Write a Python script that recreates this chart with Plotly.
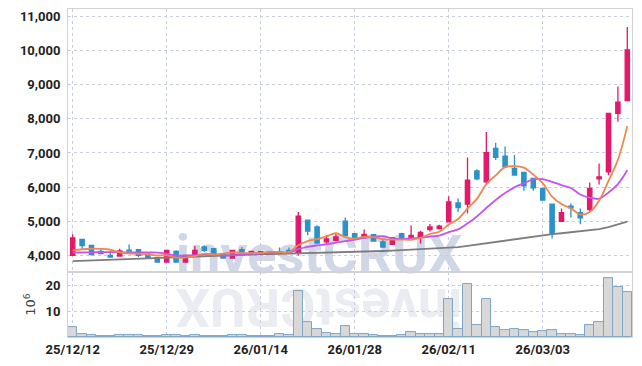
import plotly.graph_objects as go
from plotly.subplots import make_subplots

# ---------------- data ----------------
dates = [
    "25/12/12", "25/12/15", "25/12/16", "25/12/17", "25/12/18", "25/12/19",
    "25/12/22", "25/12/23", "25/12/24", "25/12/26", "25/12/29", "25/12/30",
    "26/01/02", "26/01/05", "26/01/06", "26/01/07", "26/01/08", "26/01/09",
    "26/01/12", "26/01/13", "26/01/14", "26/01/15", "26/01/16", "26/01/19",
    "26/01/20", "26/01/21", "26/01/22", "26/01/23", "26/01/26", "26/01/27",
    "26/01/28", "26/01/29", "26/01/30", "26/02/02", "26/02/03", "26/02/04",
    "26/02/05", "26/02/06", "26/02/09", "26/02/10", "26/02/11", "26/02/12",
    "26/02/13", "26/02/19", "26/02/20", "26/02/23", "26/02/24", "26/02/25",
    "26/02/26", "26/02/27", "26/03/03", "26/03/04", "26/03/05", "26/03/06",
    "26/03/09", "26/03/10", "26/03/11", "26/03/12", "26/03/13", "26/03/16",
]

opens = [4000, 4472, 4295, 4119, 4002, 3981, 4157, 4169, 4040, 3934,
         3805, 4119, 3805, 4002, 4246, 4198, 4052, 3922, 4169, 4060,
         4050, 4095, 4100, 4148, 4070, 5030, 4833, 4393, 4442, 5000,
         4638, 4521, 4609, 4393, 4325, 4638, 4521, 4560, 4755, 4785,
         4980, 5538, 5500, 6477, 6154, 7134, 6908, 6547, 6430, 6253,
         5960, 5500, 5000, 5440, 5255, 5343, 6242, 6447, 8162, 8532]
highs = [4618, 4472, 4300, 4178, 4128, 4198, 4316, 4175, 4045, 3940,
         4160, 4148, 4010, 4275, 4290, 4205, 4060, 4160, 4246, 4130,
         4120, 4110, 4228, 4228, 5273, 5040, 4883, 4589, 4657, 5108,
         4650, 4756, 4620, 4480, 4530, 4660, 4873, 4720, 4920, 4900,
         5734, 5666, 6870, 6520, 7613, 7299, 7187, 6938, 6440, 6260,
         5970, 5510, 5373, 5520, 5373, 6136, 6694, 8162, 8943, 10687]
lows = [3990, 4198, 4000, 4040, 3950, 3975, 4120, 3952, 3915, 3790,
        3790, 3795, 3800, 3995, 4100, 4040, 3900, 3915, 4070, 4050,
        4040, 4040, 4060, 4060, 4000, 4589, 4325, 4340, 4420, 4580,
        4480, 4510, 4410, 4230, 4310, 4500, 4500, 4345, 4700, 4760,
        4970, 5274, 5225, 6200, 6100, 6791, 6560, 6330, 5890, 5890,
        5600, 4492, 4990, 5108, 4912, 5294, 6077, 6350, 7916, 8520]
closes = [4510, 4287, 4022, 4052, 3952, 4128, 4128, 4002, 3922, 3805,
          4148, 3805, 4002, 4148, 4148, 4052, 3922, 4148, 4081, 4119,
          4110, 4080, 4090, 4070, 5147, 4715, 4363, 4481, 4540, 4589,
          4492, 4618, 4422, 4246, 4521, 4510, 4589, 4677, 4833, 4853,
          5567, 5402, 6204, 6242, 7006, 6870, 6594, 6351, 6036, 5978,
          5617, 4638, 5255, 5390, 5098, 5960, 6300, 8162, 8485, 10021]

# volume, in millions of shares (axis unit 10^6)
volumes_m = [3.85, 1.0, 0.6, 0.25, 0.25, 0.6, 0.6, 0.6, 0.35, 0.35,
             0.6, 0.6, 0.35, 0.6, 0.35, 0.35, 0.35, 0.6, 0.6, 0.35,
             0.35, 0.35, 1.15, 0.7, 17.7, 5.8, 3.0, 1.45, 1.1, 4.2,
             1.15, 1.15, 0.6, 0.25, 0.25, 0.9, 1.9, 1.15, 1.15, 1.15,
             14.6, 3.1, 20.4, 4.6, 14.8, 3.85, 2.7, 3.1, 2.7, 1.8,
             2.15, 2.7, 1.15, 1.15, 0.6, 4.6, 5.8, 22.7, 19.2, 17.3]

# moving-average lines
ma_short = [4150, 4180, 4195, 4190, 4165, 4088, 4056, 4052, 4026, 3997,
            4001, 3936, 3936, 3982, 4050, 4031, 4054, 4084, 4070, 4064,
            4076, 4108, 4096, 4094, 4299, 4420, 4477, 4555, 4649, 4538,
            4493, 4544, 4532, 4473, 4460, 4463, 4458, 4509, 4626, 4692,
            4904, 5066, 5372, 5654, 6084, 6345, 6583, 6613, 6571, 6366,
            6115, 5724, 5505, 5376, 5200, 5268, 5601, 6182, 6801, 7786]
ma_mid = [4080, 4085, 4090, 4095, 4095, 4092, 4090, 4088, 4085, 4081,
          4045, 3996, 3994, 4004, 4024, 4016, 3995, 4010, 4026, 4057,
          4054, 4081, 4090, 4082, 4182, 4248, 4292, 4326, 4372, 4419,
          4457, 4511, 4544, 4561, 4499, 4478, 4501, 4520, 4550, 4576,
          4684, 4762, 4940, 5140, 5388, 5624, 5825, 5992, 6113, 6225,
          6230, 6154, 6059, 5974, 5783, 5692, 5662, 5843, 6088, 6493]
ma_long = [3830, 3841, 3853, 3864, 3875, 3887, 3898, 3909, 3921, 3932,
           3943, 3955, 3966, 3977, 3989, 4000, 4006, 4012, 4018, 4024,
           4030, 4036, 4042, 4048, 4054, 4060, 4066, 4072, 4078, 4084,
           4090, 4103, 4116, 4129, 4142, 4155, 4168, 4181, 4194, 4207,
           4220, 4245, 4280, 4320, 4360, 4400, 4440, 4480, 4515, 4550,
           4590, 4620, 4648, 4675, 4700, 4730, 4770, 4825, 4900, 4990]

tick_dates = ["25/12/12", "25/12/29", "26/01/14", "26/01/28", "26/02/11", "26/03/03"]
price_ticks = [4000, 5000, 6000, 7000, 8000, 9000, 10000, 11000]
volume_ticks = [10, 20]
watermark = "investCRUX"

# ---------------- style ----------------
UP = "#E2196B"
DOWN = "#2B92C9"
GRID = "#c9cedf"
FRAME = "#d2d2d2"
TICK_FONT = dict(family="Roboto, Liberation Sans, sans-serif",
                 size=13, color="#1e1e1e", weight="bold")

fig = make_subplots(rows=2, cols=1, shared_xaxes=True, vertical_spacing=0,
                    row_heights=[0.802, 0.198])

fig.add_trace(go.Candlestick(
    x=dates, open=opens, high=highs, low=lows, close=closes,
    increasing=dict(line=dict(color=UP, width=1.3), fillcolor=UP),
    decreasing=dict(line=dict(color=DOWN, width=1.3), fillcolor=DOWN),
    whiskerwidth=0, showlegend=False, name="price"), row=1, col=1)

fig.add_trace(go.Scatter(x=dates, y=ma_long, mode="lines",
                         line=dict(color="#7d7d7d", width=1.8), showlegend=False), row=1, col=1)
fig.add_trace(go.Scatter(x=dates, y=ma_mid, mode="lines", line_shape="spline",
                         line=dict(color="#C455EC", width=1.8), showlegend=False), row=1, col=1)
fig.add_trace(go.Scatter(x=dates, y=ma_short, mode="lines", line_shape="spline",
                         line=dict(color="#EE8750", width=1.8), showlegend=False), row=1, col=1)

fig.add_trace(go.Bar(x=dates, y=volumes_m,
                     marker=dict(color="#d8d8d8", line=dict(color="#7fa5c6", width=1)),
                     showlegend=False, name="volume"), row=2, col=1)

axis_common = dict(showline=True, linecolor=FRAME, linewidth=1, mirror=True,
                   showgrid=True, gridcolor=GRID, griddash="dot", gridwidth=1,
                   zeroline=False, ticks="")

fig.update_xaxes(type="category", range=[-0.5, len(dates) - 0.5],
                 tickmode="array", tickvals=tick_dates, ticktext=tick_dates,
                 rangeslider=dict(visible=False), **axis_common)
fig.update_xaxes(showticklabels=False, row=1, col=1)
fig.update_xaxes(showticklabels=True, tickfont=TICK_FONT, row=2, col=1)

fig.update_yaxes(range=[3512, 11216], tickmode="array", tickvals=price_ticks,
                 tickformat=",d", tickfont=TICK_FONT, ticklabelstandoff=4,
                 row=1, col=1, **axis_common)
fig.update_yaxes(range=[0, 25.2], tickmode="array", tickvals=volume_ticks,
                 tickfont=TICK_FONT, ticklabelstandoff=4,
                 title=dict(text="10<sup>6</sup>", standoff=6,
                            font=dict(family="DejaVu Sans, sans-serif", size=13, color="#444444")),
                 row=2, col=1, **axis_common)

# watermark (drawn beneath the data)
fig.add_shape(type="rect", xref="paper", yref="paper", x0=0.20, x1=0.69, y0=0.185, y1=0.345,
              line=dict(width=0), fillcolor="rgba(0,0,0,0)", layer="below",
              label=dict(text=watermark, textposition="middle center",
                         font=dict(family="Roboto, sans-serif",
                                   size=54, color="#d1d7e7", weight="bold")))
fig.add_shape(type="rect", xref="paper", yref="paper", x0=0.20, x1=0.69, y0=-0.002, y1=0.158,
              line=dict(width=0), fillcolor="rgba(0,0,0,0)", layer="below",
              label=dict(text=watermark, textposition="middle center", textangle=180,
                         font=dict(family="Roboto, sans-serif",
                                   size=54, color="#eaecf2", weight="bold")))

# the page adds an 8px body margin, so the figure is sized/offset to compensate
fig.update_layout(width=634, height=358, margin=dict(l=60, r=10, t=1, b=29),
                  paper_bgcolor="white", plot_bgcolor="white",
                  bargap=0, boxgap=0.35, hovermode=False, showlegend=False)

fig.write_html("out.html")
